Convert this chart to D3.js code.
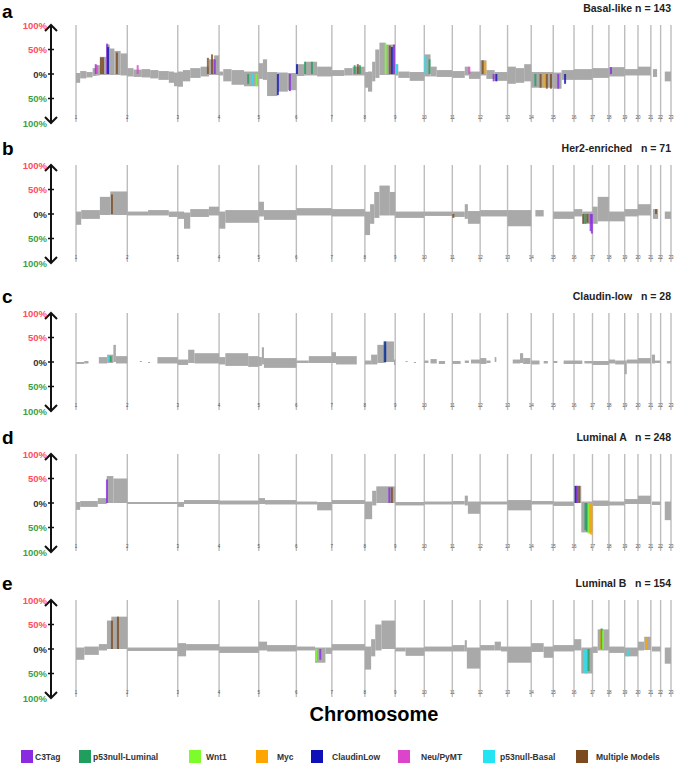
<!DOCTYPE html>
<html lang="en">
<head>
<meta charset="UTF-8">
<title>Copy number frequency by subtype</title>
<style>
  * { margin: 0; padding: 0; box-sizing: border-box; }
  body { background: #fff; font-family: "Liberation Sans", Arial, sans-serif; }
  svg { display: block; }
</style>
</head>
<body>
<div id="chart"></div>
<script src="https://d3js.org/d3.v7.min.js"></script>
<script>
// chromosome sizes (Mb) and the labels printed under the separators
const chromLengths = [247,243,199,191,181,171,159,146,140,135,134,132,114,106,100,89,79,76,64,62,47,50];
const chromLabels = ["1","2","3","4","5","6","7","8","9","10","11","12","13","14","15","16","17","18","19","20","21","22","23"];

const panelLetters = ["a","b","c","d","e"];
const panelTitles = ["Basal-like n = 143","Her2-enriched   n = 71","Claudin-low   n = 28","Luminal A   n = 248","Luminal B   n = 154"];

const modelNames = ["C3Tag","p53null-Luminal","Wnt1","Myc","ClaudinLow","Neu/PyMT","p53null-Basal","Multiple Models"];
const modelColors = ["#8a2be2","#1f9e5e","#7cfc2a","#ffa500","#1010b8","#dd44cc","#22e4f2","#7b4a1e"];

// segments: [chrom, startMb, endMb, gain %, loss %]
const basalSegs = [
  [1,0,20,2,18],[1,20,50,6,9],[1,50,80,4,7],[1,80,100,12,4],[1,100,115,18,3],[1,115,145,35,2],[1,145,162,60,2],[1,162,185,52,2],[1,185,215,47,2],[1,215,247,42,3],
  [2,0,30,12,5],[2,30,70,9,6],[2,70,110,10,7],[2,110,150,8,9],[2,150,200,6,12],[2,200,225,5,18],[2,225,243,3,25],
  [3,0,25,5,26],[3,25,60,8,15],[3,60,110,12,8],[3,110,150,15,5],[3,150,175,30,2],[3,175,199,38,2],
  [4,0,20,5,3],[4,20,60,10,15],[4,60,120,8,22],[4,120,191,5,25],
  [5,0,20,22,10],[5,20,40,30,12],[5,40,90,4,45],[5,90,140,3,36],[5,140,181,2,33],
  [6,0,40,20,4],[6,40,100,25,3],[6,100,171,15,5],
  [7,0,60,8,4],[7,60,100,12,3],[7,100,159,15,3],
  [8,0,15,4,28],[8,15,35,5,36],[8,35,50,25,15],[8,50,70,50,8],[8,70,100,64,2],[8,100,146,60,2],
  [9,0,15,20,3],[9,15,70,5,8],[9,70,140,4,14],
  [10,0,30,40,5],[10,30,60,15,5],[10,60,135,8,6],
  [11,0,60,6,8],[11,60,80,15,3],[11,80,134,5,10],
  [12,0,30,28,3],[12,30,70,8,10],[12,70,132,4,14],
  [13,0,40,15,20],[13,40,80,12,18],[13,80,114,20,15],
  [14,0,106,4,28],
  [15,0,40,3,30],[15,40,100,8,12],
  [16,0,89,10,12],
  [17,0,79,12,8],
  [18,0,76,14,5],
  [19,0,64,10,3],
  [20,0,62,15,3],
  [21,10,30,10,6],
  [22,20,50,5,15]
];
const her2Segs = [
  [1,0,25,5,22],[1,25,115,8,10],[1,115,165,35,2],[1,165,247,46,2],
  [2,0,100,5,3],[2,100,200,8,3],[2,200,243,5,6],
  [3,0,30,5,10],[3,30,60,3,30],[3,60,150,10,6],[3,150,199,15,3],
  [4,0,30,5,30],[4,30,191,8,18],
  [5,0,25,25,5],[5,25,181,8,12],
  [6,0,171,12,3],
  [7,0,159,10,5],
  [8,0,25,5,43],[8,25,45,20,20],[8,45,70,45,8],[8,70,120,58,3],[8,120,146,45,3],
  [9,0,140,5,8],
  [10,0,135,5,4],
  [11,0,60,5,6],[11,60,75,20,10],[11,75,134,6,20],
  [12,0,132,8,5],
  [13,0,114,8,25],
  [14,20,60,8,5],
  [15,0,100,5,10],
  [16,0,40,10,5],[16,40,89,5,20],
  [17,0,25,15,20],[17,25,79,35,15],
  [18,0,76,5,15],
  [19,0,64,10,5],
  [20,0,62,20,3],
  [21,10,35,10,10],
  [22,20,50,5,10]
];
const claudinSegs = [
  [1,0,40,0,4],[1,40,60,2,3],[1,110,150,10,3],[1,150,180,15,2],[1,180,192,35,0],[1,192,247,12,3],
  [2,60,70,2,0],[2,100,110,0,2],[2,145,243,10,3],
  [3,0,50,5,6],[3,50,80,25,2],[3,80,199,18,3],
  [4,0,30,10,5],[4,30,140,18,8],[4,140,191,12,10],
  [5,0,15,10,8],[5,15,25,30,5],[5,25,181,8,12],
  [6,0,60,3,2],[6,60,171,12,2],
  [7,0,20,20,2],[7,20,120,12,5],
  [8,0,30,3,5],[8,30,60,15,5],[8,60,100,35,2],[8,100,140,42,0],[8,140,146,5,6],
  [9,50,60,2,0],[9,90,100,0,2],
  [10,0,20,3,2],[10,30,60,6,3],[10,70,100,2,4],
  [11,0,40,2,4],[11,60,80,3,2],[11,90,134,5,3],
  [12,0,30,8,4],[12,30,50,3,2],[12,70,78,10,0],
  [13,25,60,5,3],[13,60,75,18,2],[13,75,110,8,4],
  [14,0,40,3,5],[14,60,80,2,3],
  [15,0,20,2,2],[15,50,100,3,4],
  [16,0,40,3,4],[16,50,89,2,3],
  [17,0,79,2,6],
  [18,0,30,5,3],[18,30,76,3,5],
  [19,0,10,3,25],[19,10,64,5,3],
  [20,0,62,8,3],
  [21,5,20,15,3],[21,20,47,3,2],
  [22,30,50,2,3]
];
const lumASegs = [
  [1,0,20,2,14],[1,20,105,4,8],[1,105,148,10,2],[1,148,180,55,0],[1,180,247,50,0],
  [2,0,243,2,2],
  [3,0,30,2,8],[3,30,199,6,2],
  [4,0,191,5,3],
  [5,0,30,10,2],[5,30,181,6,3],
  [6,0,100,3,3],[6,100,171,2,15],
  [7,0,159,6,2],
  [8,0,35,3,33],[8,35,55,25,5],[8,55,146,34,0],
  [9,0,140,2,5],
  [10,0,135,3,3],
  [11,0,60,4,3],[11,60,75,15,5],[11,75,134,3,22],
  [12,0,132,3,3],
  [13,0,114,6,15],
  [14,0,106,4,3],
  [15,0,100,3,6],
  [16,0,35,35,0],[16,35,89,3,60],
  [17,0,79,5,6],
  [18,0,76,3,5],
  [19,0,64,8,2],
  [20,0,62,15,2],
  [21,5,47,3,4],
  [22,20,50,3,35]
];
const lumBSegs = [
  [1,0,40,3,22],[1,40,110,5,12],[1,110,149,10,3],[1,149,170,58,0],[1,170,247,66,0],
  [2,0,243,3,4],
  [3,0,40,12,15],[3,40,199,10,3],
  [4,0,191,5,8],
  [5,0,40,15,3],[5,40,181,8,5],
  [6,0,90,5,3],[6,90,140,3,28],[6,140,171,3,10],
  [7,0,159,10,3],
  [8,0,30,5,42],[8,30,50,20,15],[8,50,80,50,3],[8,80,146,58,0],
  [9,0,50,3,5],[9,50,140,3,14],
  [10,0,135,5,5],
  [11,0,60,8,5],[11,60,70,18,5],[11,70,134,3,40],
  [12,0,70,8,3],[12,70,100,15,3],[12,100,132,5,5],
  [13,0,114,5,28],
  [14,0,60,12,6],[14,60,106,5,18],
  [15,0,100,8,5],
  [16,0,35,20,3],[16,35,89,3,50],
  [17,0,25,5,8],[17,25,79,40,3],
  [18,0,76,5,8],
  [19,0,64,3,15],
  [20,0,30,15,3],[20,30,62,25,2],
  [21,5,47,5,5],
  [22,20,50,3,30]
];

// model overlap marks: [chrom, Mb, value %, model index]
const basalMarks = [
  [1,95,20,0],[1,100,18,5],[1,120,34,7],[1,130,34,7],[1,150,62,0],[1,155,55,4],[1,197,44,7],
  [2,50,18,5],
  [3,145,33,7],[3,165,40,7],[3,178,30,0],
  [4,140,-20,1],[4,160,-22,6],[4,180,-25,2],
  [5,92,-43,4],[5,150,-35,0],
  [6,3,20,4],[6,42,25,1],[6,75,25,1],
  [7,110,18,1],[7,125,20,7],[7,135,18,1],
  [8,100,62,2],[8,120,58,7],[8,130,55,4],[8,140,60,0],
  [9,5,20,6],
  [10,5,38,6],[10,25,30,1],
  [11,82,15,5],
  [12,12,28,7],[12,25,25,3],[12,65,-15,0],[12,78,-15,4],
  [14,20,-25,1],[14,45,-28,7],[14,60,-28,3],[14,75,-30,7],[14,95,-30,7],
  [15,24,-30,0],[15,57,-20,4],
  [18,10,14,0]
];
const her2Marks = [
  [1,173,40,7],
  [11,5,-8,7],
  [16,45,-20,7],[16,55,-20,1],[16,65,-18,7],[16,80,-35,0],[16,86,-40,0],
  [21,25,10,7]
];
const claudinMarks = [
  [1,160,12,6],[1,167,12,1],
  [8,94,42,1],[8,98,42,4]
];
const lumAMarks = [
  [1,149,48,0],
  [8,118,32,0],[8,130,32,7],
  [16,8,35,4],[16,15,35,0],[16,25,35,7],
  [16,55,-55,1],[16,62,-58,1],[16,70,-62,2],[16,78,-63,3],[16,84,-65,3]
];
const lumBMarks = [
  [1,173,58,7],[1,202,66,7],
  [6,95,-25,2],[6,115,-22,0],
  [16,50,-48,6],[16,60,-50,6],[16,70,-45,1],
  [17,38,40,3],[17,44,42,1],[17,50,38,2],
  [19,15,-15,6],
  [20,40,22,3]
];

const panelSegs = [basalSegs, her2Segs, claudinSegs, lumASegs, lumBSegs];
const panelMarks = [basalMarks, her2Marks, claudinMarks, lumAMarks, lumBMarks];

// layout
const W = 681, H = 771;
const zeroY = [74, 214, 362, 503, 649];
const half = 49;
const axisX = 51;

const offsets = [0];
chromLengths.forEach(function(l, i) { offsets.push(offsets[i] + l); });
const total = offsets[offsets.length - 1];

const x = d3.scaleLinear().domain([0, total]).range([76, 671]);
function gx(chr, mb) { return x(offsets[chr - 1] + mb); }

const svg = d3.select("#chart").append("svg")
  .attr("width", W).attr("height", H);

panelLetters.forEach(function(letter, p) {
  const z = zeroY[p];
  const y = d3.scaleLinear().domain([-100, 100]).range([z + half, z - half]);
  const g = svg.append("g");

  // panel letter and title
  g.append("text")
    .attr("x", 2).attr("y", Math.max(z - 59, 17.5))
    .attr("font-size", 19).attr("font-weight", "bold")
    .text(letter);
  g.append("text")
    .attr("x", 671).attr("y", z - 62)
    .attr("text-anchor", "end")
    .attr("font-size", 10.5).attr("font-weight", "bold")
    .attr("fill", "#222")
    .style("white-space", "pre")
    .text(panelTitles[p]);

  // chromosome separators
  g.selectAll("line.chr")
    .data(offsets)
    .enter().append("line")
      .attr("x1", function(d) { return x(d); })
      .attr("x2", function(d) { return x(d); })
      .attr("y1", y(100))
      .attr("y2", y(-98))
      .attr("stroke", "#bdbdbd")
      .attr("stroke-width", 1.4);

  g.selectAll("text.chr")
    .data(offsets)
    .enter().append("text")
      .attr("x", function(d) { return x(d); })
      .attr("y", y(-92))
      .attr("text-anchor", "middle")
      .attr("font-size", 4.5)
      .attr("fill", "#555")
      .text(function(d, i) { return chromLabels[i]; });

  // frequency profile
  g.selectAll("rect.seg")
    .data(panelSegs[p])
    .enter().append("rect")
      .attr("x", function(d) { return gx(d[0], d[1]); })
      .attr("width", function(d) { return gx(d[0], d[2]) - gx(d[0], d[1]); })
      .attr("y", function(d) { return y(d[3]); })
      .attr("height", function(d) { return y(-d[4]) - y(d[3]); })
      .attr("fill", "#a9a9a9");

  // model overlap marks
  g.selectAll("rect.mark")
    .data(panelMarks[p])
    .enter().append("rect")
      .attr("x", function(d) { return gx(d[0], d[1]) - 1; })
      .attr("width", 2)
      .attr("y", function(d) { return d[2] > 0 ? y(d[2]) : y(0); })
      .attr("height", function(d) { return Math.abs(y(d[2]) - y(0)); })
      .attr("fill", function(d) { return modelColors[d[3]]; })
      .attr("opacity", 0.8);

  // axis with arrows
  g.append("line")
    .attr("x1", axisX).attr("x2", axisX)
    .attr("y1", y(100)).attr("y2", y(-100))
    .attr("stroke", "#111").attr("stroke-width", 2);
  g.append("path")
    .attr("d", "M" + (axisX - 6) + "," + (y(100) + 6) + "L" + axisX + "," + y(100) + "L" + (axisX + 6) + "," + (y(100) + 6))
    .attr("fill", "none").attr("stroke", "#111").attr("stroke-width", 2);
  g.append("path")
    .attr("d", "M" + (axisX - 6) + "," + (y(-100) - 6) + "L" + axisX + "," + y(-100) + "L" + (axisX + 6) + "," + (y(-100) - 6))
    .attr("fill", "none").attr("stroke", "#111").attr("stroke-width", 2);

  const ticks = [100, 50, 0, -50, -100];
  const tickColors = ["#ff4d5e", "#ff4d5e", "#333", "#3f9f45", "#3f9f45"];
  g.selectAll("line.tick")
    .data(ticks.slice(1, 4))
    .enter().append("line")
      .attr("x1", axisX - 3).attr("x2", axisX + 3)
      .attr("y1", function(d) { return y(d); })
      .attr("y2", function(d) { return y(d); })
      .attr("stroke", "#111").attr("stroke-width", 1.5);
  g.selectAll("text.tick")
    .data(ticks)
    .enter().append("text")
      .attr("x", axisX - 4)
      .attr("y", function(d) { return y(d) + 3.5; })
      .attr("text-anchor", "end")
      .attr("font-size", 9.5)
      .attr("font-weight", "bold")
      .attr("fill", function(d, i) { return tickColors[i]; })
      .text(function(d) { return Math.abs(d) + "%"; });
});

// x-axis title
svg.append("text")
  .attr("x", 374).attr("y", 721)
  .attr("text-anchor", "middle")
  .attr("font-size", 20).attr("font-weight", "bold")
  .text("Chromosome");

// legend
const legendX = [21, 79, 189, 256, 311, 398, 483, 576];
const legendTextX = [35, 93, 206, 277, 332, 421, 500, 596];
const lg = svg.append("g");
lg.selectAll("rect")
  .data(modelNames)
  .enter().append("rect")
    .attr("x", function(d, i) { return legendX[i]; })
    .attr("y", 750)
    .attr("width", 12).attr("height", 13)
    .attr("fill", function(d, i) { return modelColors[i]; });
lg.selectAll("text")
  .data(modelNames)
  .enter().append("text")
    .attr("x", function(d, i) { return legendTextX[i]; })
    .attr("y", 760)
    .attr("font-size", 8.5)
    .attr("font-weight", "bold")
    .attr("fill", "#333")
    .text(function(d) { return d; });
</script>
</body>
</html>
